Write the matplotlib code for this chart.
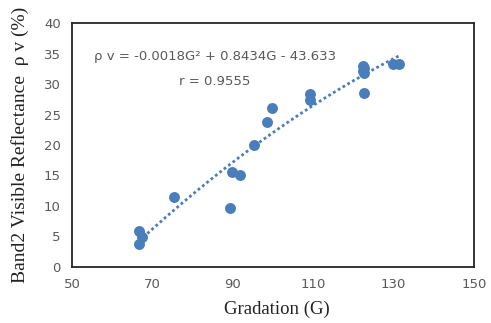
import numpy as np
import matplotlib
matplotlib.use("Agg")
import matplotlib.pyplot as plt

# Data
gradation = [66.7, 66.7, 67.5, 75.4, 89.4, 89.7, 91.9, 95.3, 98.6, 99.75,
             109.1, 109.1, 122.3, 122.6, 122.5, 122.6, 122.6, 129.9, 131.4]
reflectance = [5.9, 3.7, 4.8, 11.4, 9.65, 15.5, 15.0, 19.95, 23.7, 26.0,
               28.3, 27.4, 33.0, 32.7, 32.2, 31.9, 28.5, 33.3, 33.3]
x_ticks = [50, 70, 90, 110, 130, 150]
y_ticks = [0, 5, 10, 15, 20, 25, 30, 35, 40]

blue = "#4A7EBB"
grey = "#595959"

fig = plt.figure(figsize=(4.91, 3.23), dpi=100)
ax = fig.add_axes([0.1466, 0.1743, 0.8188, 0.7537])

ax.scatter(gradation, reflectance, s=62, color=blue, zorder=3, linewidths=0)
coeffs = np.polyfit(gradation, reflectance, 2)
gx = np.linspace(min(gradation), max(gradation), 200)
ax.plot(gx, np.polyval(coeffs, gx), linestyle=(0, (1, 1.0)), color=blue,
        linewidth=2.0, zorder=2)

ax.set_xlim(50, 150)
ax.set_ylim(0, 40)
ax.set_xticks(x_ticks)
ax.set_yticks(y_ticks)
ax.tick_params(length=0, labelsize=9.5, labelcolor=grey, pad=8)
for sp in ax.spines.values():
    sp.set_color("#262626")
    sp.set_linewidth(1.3)

ax.set_xlabel("Gradation (G)", family="Liberation Serif", fontsize=13.5, color="#222222")
ax.xaxis.set_label_coords(0.51, -0.14)
ax.set_ylabel("Band2 Visible Reflectance  ρ v (%)", family="Liberation Serif", fontsize=14,
              color="#222222")
ax.yaxis.set_label_coords(-0.108, 0.5)

ax.text(0.355, 0.865, "ρ v = -0.0018G² + 0.8434G - 43.633", transform=ax.transAxes,
        ha="center", va="center", fontsize=9.5, color=grey, family="DejaVu Sans")
ax.text(0.355, 0.76, "r = 0.9555", transform=ax.transAxes,
        ha="center", va="center", fontsize=9.5, color=grey, family="DejaVu Sans")

fig.savefig("out.png", dpi=100)
